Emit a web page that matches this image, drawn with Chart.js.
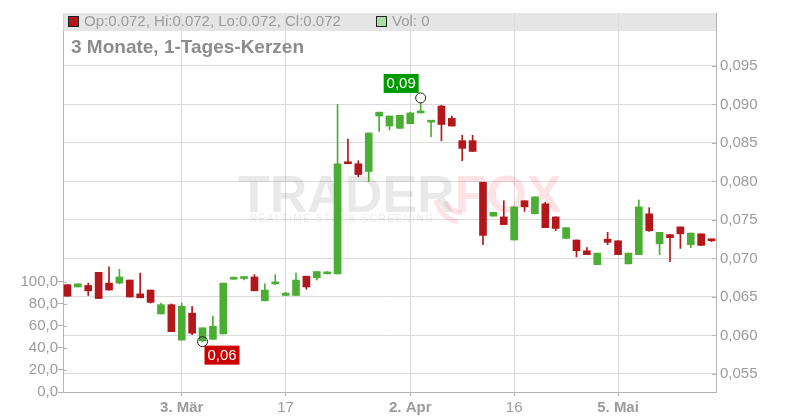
<!DOCTYPE html>
<html>
<head>
<meta charset="utf-8">
<script src="https://cdn.jsdelivr.net/npm/chart.js@4.4.1/dist/chart.umd.min.js"></script>
<style>
  html, body { margin: 0; padding: 0; background: #fff; }
  canvas { display: block; }
</style>
</head>
<body>
<canvas id="chart" width="800" height="420"></canvas>
<script>
// trading days, 14.02.2025 - 16.05.2025
const dates = [
  '2025-02-14','2025-02-17','2025-02-18','2025-02-19','2025-02-20','2025-02-21','2025-02-24','2025-02-25','2025-02-26','2025-02-27','2025-02-28',
  '2025-03-03','2025-03-04','2025-03-05','2025-03-06','2025-03-07','2025-03-10','2025-03-11','2025-03-12','2025-03-13','2025-03-14',
  '2025-03-17','2025-03-18','2025-03-19','2025-03-20','2025-03-21','2025-03-24','2025-03-25','2025-03-26','2025-03-27','2025-03-28','2025-03-31',
  '2025-04-01','2025-04-02','2025-04-03','2025-04-04','2025-04-07','2025-04-08','2025-04-09','2025-04-10','2025-04-11',
  '2025-04-14','2025-04-15','2025-04-16','2025-04-17','2025-04-22','2025-04-23','2025-04-24','2025-04-25','2025-04-28','2025-04-29','2025-04-30',
  '2025-05-02','2025-05-05','2025-05-06','2025-05-07','2025-05-08','2025-05-09','2025-05-12','2025-05-13','2025-05-14','2025-05-15','2025-05-16'
];
const opens = [
  .0666,.0663,.0665,.0682,.0668,.0668,.0672,.0654,.0659,.0628,
  .0640,.0594,.0629,.0593,.0595,.0602,.0673,.0674,.0676,.0645,
  .0667,.0652,.0652,.0677,.0675,.0680,.0680,.0825,.0823,.0813,
  .0885,.0872,.0869,.0875,.0889,.0877,.0898,.0882,.0853,.0853,
  .0799,.0755,.0754,.0724,.0775,.0758,.0771,.0754,.0726,.0724,
  .0710,.0692,.0725,.0723,.0693,.0705,.0758,.0719,.0731,.0741,
  .0718,.0732,.0724
];
const highs = [
  .0666,.0667,.0668,.0682,.0689,.0686,.0672,.0681,.0659,.0642,
  .0641,.0642,.0638,.0610,.0625,.0668,.0676,.0676,.0679,.0667,
  .0679,.0656,.0681,.0677,.0683,.0683,.0900,.0855,.0827,.0863,
  .0890,.0885,.0886,.0890,.0902,.0878,.0899,.0885,.0860,.0860,
  .0799,.0760,.0775,.0767,.0775,.0780,.0773,.0754,.0740,.0724,
  .0714,.0707,.0734,.0723,.0707,.0776,.0766,.0734,.0731,.0741,
  .0733,.0732,.0724
];
const lows = [
  .0651,.0663,.0652,.0648,.0659,.0667,.0650,.0649,.0642,.0628,
  .0605,.0594,.0601,.0592,.0595,.0602,.0673,.0672,.0658,.0645,
  .0666,.0652,.0652,.0660,.0672,.0680,.0680,.0823,.0806,.0800,
  .0865,.0867,.0869,.0875,.0889,.0858,.0853,.0872,.0827,.0839,
  .0718,.0755,.0744,.0724,.0761,.0758,.0740,.0736,.0726,.0702,
  .0705,.0692,.0718,.0705,.0693,.0705,.0735,.0705,.0696,.0713,
  .0714,.0717,.0722
];
const closes = [
  .0651,.0667,.0658,.0648,.0659,.0676,.0650,.0649,.0643,.0640,
  .0605,.0638,.0603,.0610,.0612,.0668,.0675,.0676,.0658,.0659,
  .0667,.0655,.0672,.0663,.0683,.0682,.0823,.0823,.0809,.0863,
  .0890,.0885,.0886,.0889,.0890,.0878,.0874,.0872,.0843,.0839,
  .0730,.0760,.0744,.0767,.0767,.0780,.0740,.0739,.0740,.0710,
  .0705,.0707,.0721,.0705,.0707,.0767,.0736,.0734,.0727,.0732,
  .0733,.0717,.0723
];
const volumes = [
  0,0,0,0,0,0,0,0,0,0, 0,0,0,0,0,0,0,0,0,0, 0,0,0,0,0,0,0,0,0,0,
  0,0,0,0,0,0,0,0,0,0, 0,0,0,0,0,0,0,0,0,0, 0,0,0,0,0,0,0,0,0,0, 0,0,0
];
const xTickIdx = [11, 21, 33, 43, 53];
const xTickLabels = ['3. Mär', '17', '2. Apr', '16', '5. Mai'];
const priceTicks = [0.055, 0.060, 0.065, 0.070, 0.075, 0.080, 0.085, 0.090, 0.095];
const volTicks = [0, 20, 40, 60, 80, 100];

const title = '3 Monate, 1-Tages-Kerzen';
const FONT = '"Liberation Sans", Arial, sans-serif';
const RED = '#b3171b';
const GREEN = '#4aae34';
const GRID = '#dadada';
const AXIS = '#b4b4b4';
const TXT = '#9b9b9b';

const candleColors = opens.map((o, i) => closes[i] >= o ? GREEN : RED);
const comma = (v, d) => v.toFixed(d).replace('.', ',');

// gray info bar, title, watermark, hi/lo markers
const decorations = {
  id: 'decorations',
  beforeDatasetsDraw(chart) {
    const { ctx, chartArea: a } = chart;
    ctx.save();
    // watermark
    ctx.font = 'bold 52px ' + FONT;
    ctx.textBaseline = 'alphabetic';
    ctx.fillStyle = 'rgba(0,0,0,0.085)';
    ctx.fillText('TRADER', 238, 212);
    const w = ctx.measureText('TRADER').width;
    ctx.fillStyle = 'rgba(240,70,85,0.15)';
    ctx.fillText('FOX', 238 + w, 212);
    ctx.strokeStyle = 'rgba(240,70,85,0.15)';
    ctx.lineWidth = 5;
    ctx.beginPath(); ctx.arc(462, 196, 26, 0.55 * Math.PI, 0.95 * Math.PI); ctx.stroke();
    ctx.beginPath(); ctx.arc(462, 196, 17, 0.5 * Math.PI, 0.9 * Math.PI); ctx.stroke();
    ctx.font = '10px ' + FONT;
    ctx.letterSpacing = '1.5px';
    ctx.fillStyle = 'rgba(0,0,0,0.09)';
    ctx.fillText('REALTIME STOCK SCREENING', 250, 222);
    ctx.letterSpacing = '0px';

    // inner tick marks
    const yv = chart.scales.yVol, yp = chart.scales.y;
    ctx.strokeStyle = AXIS;
    ctx.lineWidth = 1;
    yv.ticks.forEach(t => {
      const py = Math.round(yv.getPixelForValue(t.value)) + 0.5;
      ctx.beginPath(); ctx.moveTo(a.left, py); ctx.lineTo(a.left + 4, py); ctx.stroke();
    });
    yp.ticks.forEach(t => {
      const py = Math.round(yp.getPixelForValue(t.value)) + 0.5;
      ctx.beginPath(); ctx.moveTo(a.right - 4, py); ctx.lineTo(a.right, py); ctx.stroke();
    });

    // info bar
    ctx.fillStyle = 'rgba(220,220,220,0.75)';
    ctx.fillRect(a.left, a.top, a.right - a.left, 18);
    const last = opens.length - 1;
    ctx.textBaseline = 'middle';
    ctx.font = '15px ' + FONT;
    ctx.fillStyle = candleColors[last];
    ctx.fillRect(68.5, 16.5, 10, 10);
    ctx.strokeStyle = '#222';
    ctx.strokeRect(68.5, 16.5, 10, 10);
    ctx.fillStyle = TXT;
    ctx.fillText('Op:' + opens[last].toFixed(3) + ', Hi:' + highs[last].toFixed(3) +
      ', Lo:' + lows[last].toFixed(3) + ', Cl:' + closes[last].toFixed(3), 84, 22);
    ctx.fillStyle = '#a9dca9';
    ctx.fillRect(376.5, 16.5, 10, 10);
    ctx.strokeRect(376.5, 16.5, 10, 10);
    ctx.fillStyle = TXT;
    ctx.fillText('Vol: ' + volumes[last], 392, 22);

    // title
    ctx.font = 'bold 19px ' + FONT;
    ctx.fillStyle = '#8c8c8c';
    ctx.fillText(title, 71, 48);
    ctx.restore();
  },
  afterDatasetsDraw(chart) {
    const { ctx } = chart;
    const xs = chart.scales.x, ys = chart.scales.y;
    const hi = highs.indexOf(Math.max(...highs));
    const lo = lows.indexOf(Math.min(...lows));
    ctx.save();
    ctx.font = '15px ' + FONT;
    ctx.textBaseline = 'middle';
    ctx.textAlign = 'center';
    ctx.lineWidth = 1;
    ctx.strokeStyle = '#222';

    let cx = xs.getPixelForValue(hi), cy = ys.getPixelForValue(highs[hi]) - 5;
    ctx.beginPath(); ctx.arc(cx, cy, 5, 0, Math.PI * 2); ctx.stroke();
    ctx.fillStyle = '#009a00';
    ctx.fillRect(cx - 37, cy - 24, 35, 19);
    ctx.fillStyle = '#fff';
    ctx.fillText(comma(highs[hi], 2), cx - 19.5, cy - 14);

    cx = xs.getPixelForValue(lo); cy = ys.getPixelForValue(lows[lo]);
    ctx.beginPath(); ctx.arc(cx, cy, 5, 0, Math.PI * 2); ctx.stroke();
    ctx.fillStyle = '#cc0000';
    ctx.fillRect(cx + 2, cy + 4, 35, 19);
    ctx.fillStyle = '#fff';
    ctx.fillText(comma(lows[lo], 2), cx + 19.5, cy + 14);
    ctx.restore();
  }
};

new Chart(document.getElementById('chart'), {
  type: 'bar',
  data: {
    datasets: [
      {
        label: 'Docht',
        data: dates.map((d, i) => ({ x: i, y: [lows[i], highs[i]] })),
        backgroundColor: candleColors,
        barThickness: 1,
        minBarLength: 1,
        yAxisID: 'y',
        order: 2
      },
      {
        label: 'Kerze',
        data: dates.map((d, i) => ({ x: i, y: [opens[i], closes[i]] })),
        backgroundColor: candleColors,
        barThickness: 7,
        minBarLength: 2,
        yAxisID: 'y',
        order: 1
      },
      {
        label: 'Vol',
        data: dates.map((d, i) => ({ x: i, y: volumes[i] })),
        backgroundColor: 'rgba(0,0,0,0)',
        borderWidth: 0,
        barThickness: 7,
        yAxisID: 'yVol',
        order: 3
      }
    ]
  },
  options: {
    responsive: false,
    animation: false,
    layout: { padding: { top: 12, left: 0, right: 0, bottom: 0 } },
    datasets: { bar: { grouped: false } },
    plugins: { legend: { display: false }, tooltip: { enabled: false } },
    scales: {
      x: {
        type: 'linear',
        min: -0.43,
        max: 62.43,
        offset: false,
        afterBuildTicks: s => { s.ticks = xTickIdx.map(v => ({ value: v })); },
        afterFit: s => { s.height = 28; },
        grid: { color: GRID, offset: false, tickLength: 4, tickColor: AXIS },
        border: { color: AXIS },
        ticks: {
          autoSkip: false,
          maxRotation: 0,
          padding: 3,
          color: TXT,
          font: c => ({ family: FONT, size: 15,
            weight: String(xTickLabels[xTickIdx.indexOf(c.tick ? c.tick.value : -1)] || '').includes('.') ? 'bold' : 'normal' }),
          callback: v => xTickLabels[xTickIdx.indexOf(v)]
        }
      },
      y: {
        position: 'right',
        min: 0.05266,
        max: 0.10188,
        afterBuildTicks: s => { s.ticks = priceTicks.map(v => ({ value: v })); },
        afterFit: s => { s.width = 84; },
        grid: { color: GRID, drawTicks: false },
        border: { color: AXIS },
        ticks: { padding: 4, color: TXT, font: { family: FONT, size: 15 }, callback: v => comma(v, 3) }
      },
      yVol: {
        position: 'left',
        min: 0,
        max: 343,
        afterBuildTicks: s => { s.ticks = volTicks.map(v => ({ value: v })); },
        afterFit: s => { s.width = 63; },
        grid: { drawOnChartArea: false, tickLength: 5, tickColor: AXIS },
        border: { color: AXIS },
        ticks: { padding: 0, color: TXT, font: { family: FONT, size: 15 }, callback: v => comma(v, 1) }
      }
    }
  },
  plugins: [decorations]
});
</script>
</body>
</html>
